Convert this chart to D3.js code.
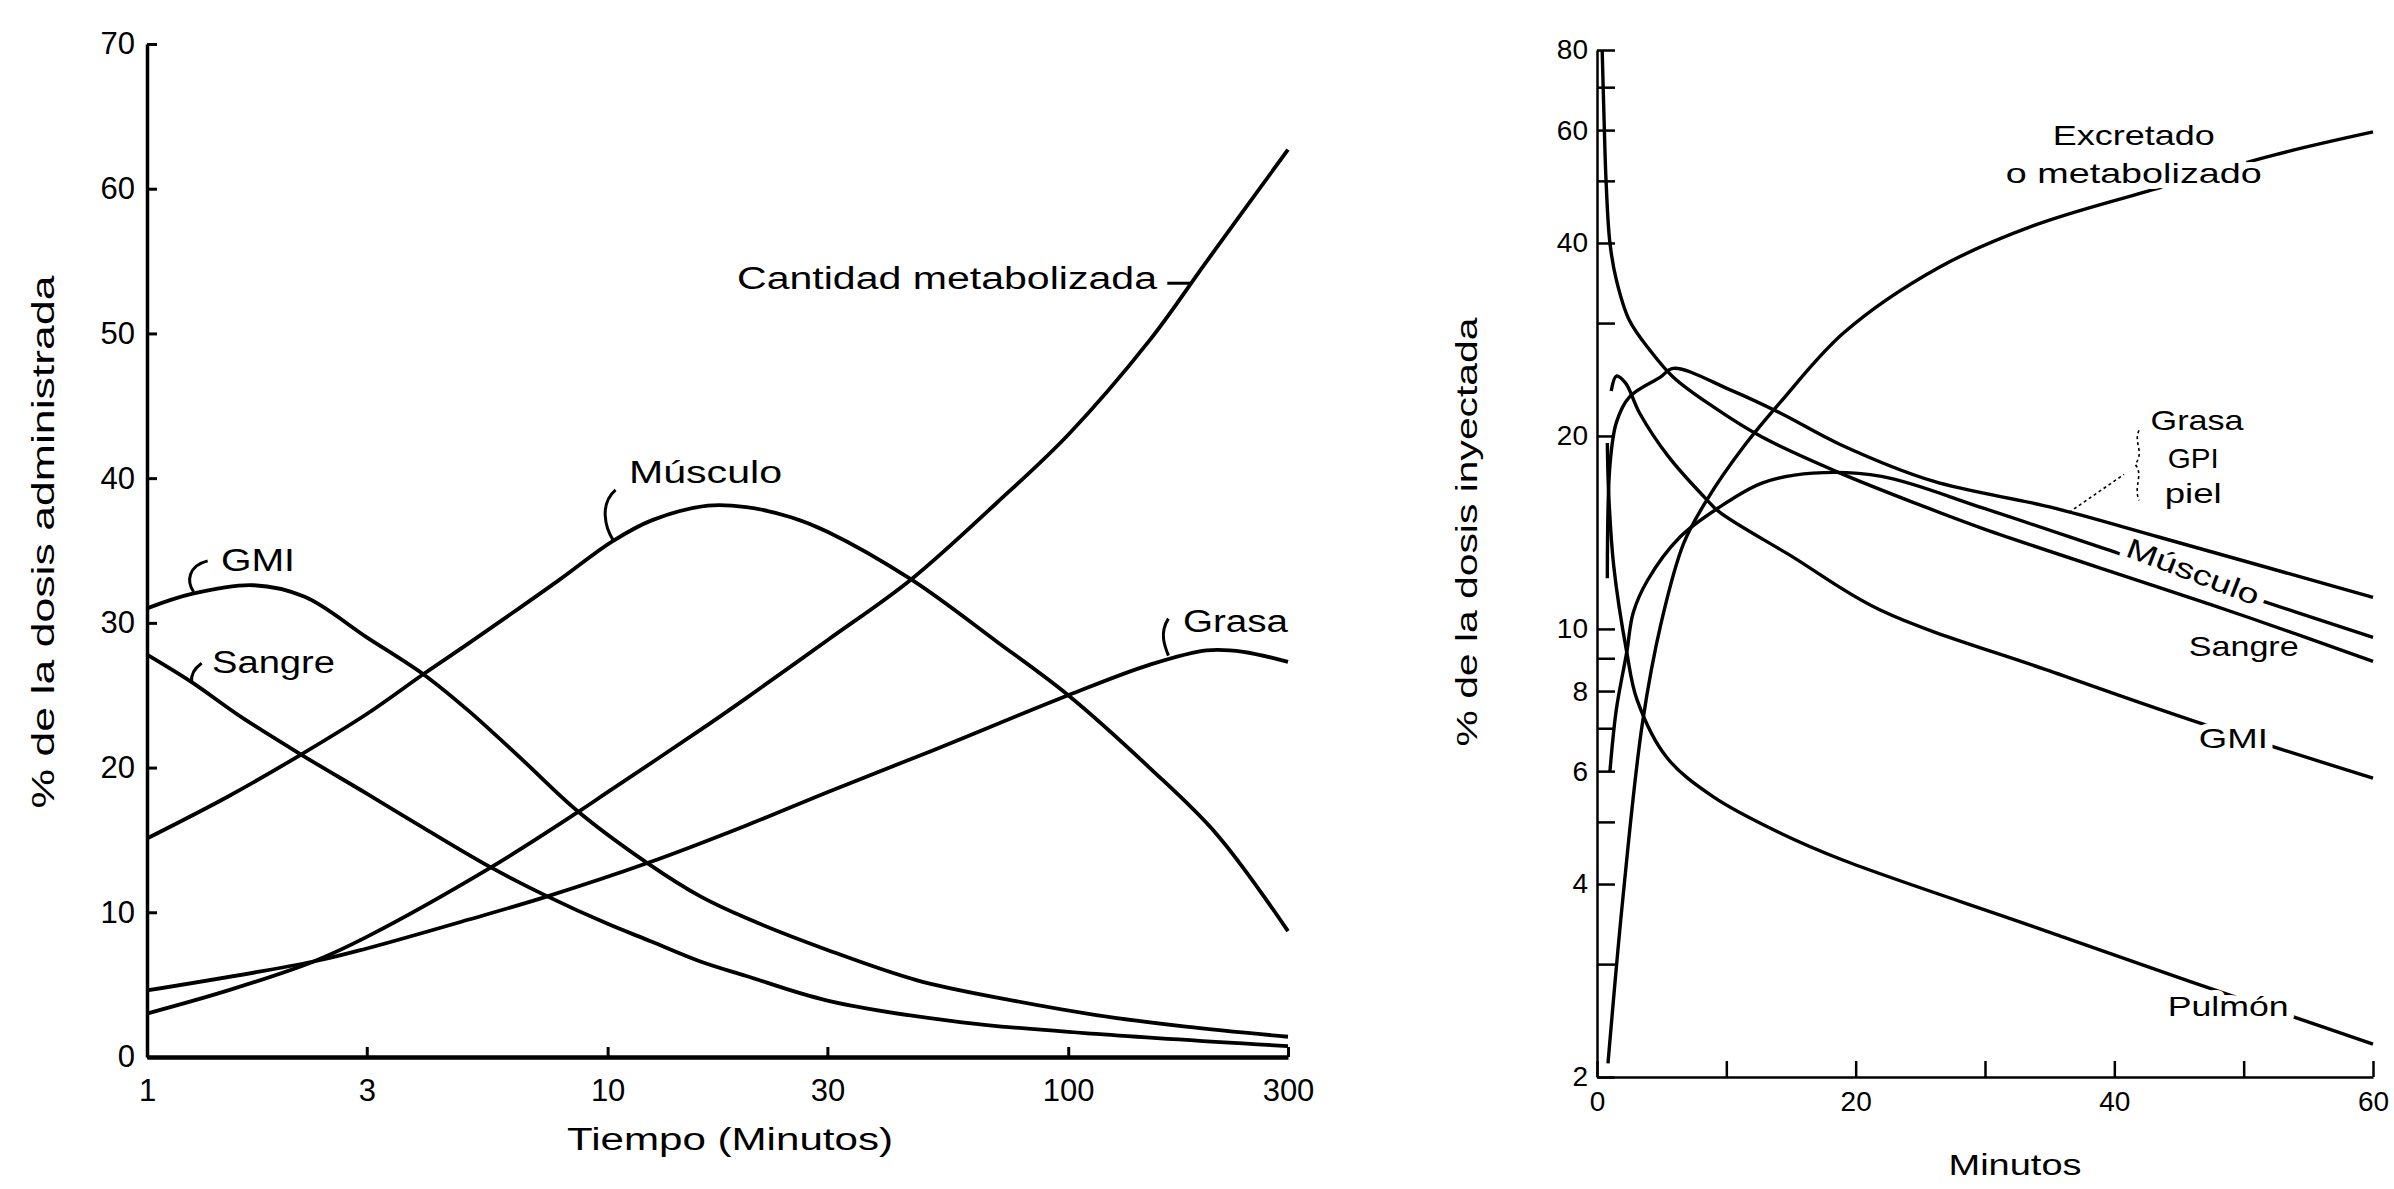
<!DOCTYPE html>
<html>
<head>
<meta charset="utf-8">
<script src="https://cdn.jsdelivr.net/npm/d3@7"></script>
<style>
  body { margin: 0; background: #fff; }
  text { font-family: "Liberation Sans", Arial, sans-serif; fill: #000; }
</style>
</head>
<body>
<svg id="fig" width="2394" height="1189"></svg>
<script>
// ---------- left panel: % de la dosis administrada vs tiempo (log) ----------
var leftTicksX = [1, 3, 10, 30, 100, 300];
var leftTicksY = [0, 10, 20, 30, 40, 50, 60, 70];

var gmiLeft = [[1,31.0],[1.25,32.0],[1.7,32.6],[2.2,31.8],[3,29.0],[4,26.4],[5,23.9],[6.5,20.6],[8.6,17.0],
  [12.2,13.4],[15.9,11.1],[20,9.6],[30,7.4],[47,5.3],[73,4.0],[115,2.9],[180,2.1],[300,1.4]];
var sangreLeft = [[1,27.8],[1.25,25.9],[1.6,23.5],[2.16,20.9],[3,18.2],[4,15.8],[5.58,13.1],[7.4,11.1],
  [10,9.2],[12.4,8.0],[15.9,6.6],[20,5.6],[30,3.9],[58.8,2.4],[115,1.6],[300,0.75]];
var musculoLeft = [[1,15.1],[1.5,18.0],[2.16,20.9],[3,23.7],[4,26.5],[5,28.6],[7.8,32.9],[10.2,35.6],
  [12.5,37.1],[16.5,38.1],[20,38.0],[25,37.3],[30,36.3],[45.6,33.0],[70,28.7],[100,25.0],[150,20.0],
  [210,15.4],[300,8.7]];
var metabLeft = [[1,3.0],[1.5,4.6],[2.3,6.6],[3,8.3],[5.58,13.1],[8.6,16.9],[10,18.3],[15.9,22.6],[20,24.8],
  [30,28.8],[45.6,33.0],[70,38.3],[100,43.0],[150,49.5],[200,55.0],[300,62.7]];
var grasaLeft = [[1,4.6],[2.3,6.6],[3,7.5],[5,9.5],[7.4,11.1],[12.2,13.4],[20,16.0],[30,18.3],[50,21.1],
  [100,25.0],[150,27.1],[200,28.1],[240,28.0],[300,27.3]];

// ---------- right panel: % de la dosis inyectada (log) vs minutos ----------
var rightTicksX = [0, 10, 20, 30, 40, 50, 60];
var rightLabelsX = [0, 20, 40, 60];
var rightTicksY = [2, 3, 4, 5, 6, 7, 8, 9, 10, 20, 30, 40, 50, 60, 70, 80];
var rightLabelsY = [2, 4, 6, 8, 10, 20, 40, 60, 80];

var sangreRight = [[0.4,80],[0.55,62],[0.7,50],[1.0,40],[1.5,35],[2.5,30.3],[4.1,27.2],[5.9,24.7],[9,22.2],
  [12.8,19.9],[18.8,17.5],[25,15.6],[30,14.3],[43.5,11.6],[50.5,10.4],[60,8.9]];
var musculoRight = [[1.0,6.0],[1.5,7.5],[2.3,9.2],[2.8,10.6],[3.9,11.9],[6.4,13.9],[9.5,15.5],[12.8,16.9],
  [16.7,17.5],[22,17.3],[30,15.4],[40.4,13.1],[50,11.3],[60,9.7]];
var grasaRight = [[0.8,12],[1.0,18],[1.5,21],[2.5,23],[4.9,24.7],[5.9,25.5],[10.3,23.6],[14.2,21.7],
  [18.8,19.4],[26,17.0],[35,15.5],[43.5,13.9],[60,11.2]];
var gmiRight = [[1.1,23.5],[1.5,24.8],[2.2,24.2],[3.3,21.7],[5.5,18.6],[8.5,15.9],[9.5,15.2],[15,13.0],
  [21.9,10.7],[35,8.6],[46,7.2],[60,5.85]];
var pulmonRight = [[0.8,19.5],[0.9,16.3],[1.3,12.5],[2.3,9.2],[3.1,7.75],[5.4,6.3],[9,5.47],[14.2,4.8],
  [19,4.36],[33.8,3.43],[45.6,2.83],[53.9,2.48],[60,2.25]];
var excretRight = [[0.85,2.1],[2.0,3.8],[3.5,7.1],[5,10.3],[6.7,13.6],[8.5,15.9],[11.3,19.2],[14.2,22.6],
  [19.1,29],[26.4,36.6],[33.8,42.6],[42.6,48.2],[52.4,54.9],[60,59.6]];

var svg = d3.select("#fig");

// scales
var xL = d3.scaleLog().domain([1, 300]).range([147, 1288]);
var yL = d3.scaleLinear().domain([0, 70]).range([1057, 44]);
var xR = d3.scaleLinear().domain([0, 60]).range([1597, 2373]);
var yR = d3.scaleLog().domain([2, 80]).range([1077, 50]);

function halo(sel, w) {
  return sel.attr("stroke", "#fff").attr("stroke-width", w).attr("paint-order", "stroke")
    .attr("stroke-linejoin", "round");
}

// ----- left axes -----
var axL = svg.append("g").attr("transform", "translate(0,1057)")
  .call(d3.axisBottom(xL).tickValues(leftTicksX).tickFormat(d3.format("d"))
    .tickSize(-10).tickSizeOuter(0).tickPadding(22));
var ayL = svg.append("g").attr("transform", "translate(147,0)")
  .call(d3.axisLeft(yL).tickValues(leftTicksY).tickSize(-10).tickSizeOuter(0).tickPadding(12));
[axL, ayL].forEach(function(a) {
  a.select(".domain").attr("stroke-width", 4.5);
  a.selectAll(".tick line").attr("stroke-width", 3);
  a.selectAll("text").style("font-size", "31px").attr("font-family", null);
});
ayL.select(".domain").attr("stroke-width", 3.5);

// ----- left curves -----
var lineL = d3.line().x(function(d) { return xL(d[0]); }).y(function(d) { return yL(d[1]); })
  .curve(d3.curveCatmullRom.alpha(0.5));
[gmiLeft, sangreLeft, musculoLeft, metabLeft, grasaLeft].forEach(function(s) {
  svg.append("path").datum(s).attr("d", lineL)
    .attr("fill", "none").attr("stroke", "#000").attr("stroke-width", 3.8);
});

// left labels
var leftLabels = [
  {text: "Cantidad metabolizada", x: 1157, y: 289, len: 420, anchor: "end"},
  {text: "Músculo", x: 629, y: 483, len: 153, anchor: "start"},
  {text: "GMI", x: 221, y: 571, len: 74, anchor: "start"},
  {text: "Sangre", x: 212, y: 673, len: 123, anchor: "start"},
  {text: "Grasa", x: 1183, y: 632, len: 105, anchor: "start"}
];
leftLabels.forEach(function(l) {
  svg.append("text").attr("x", l.x).attr("y", l.y).attr("text-anchor", l.anchor)
    .attr("textLength", l.len).attr("lengthAdjust", "spacingAndGlyphs")
    .style("font-size", "31px").text(l.text);
});

// small brackets joining the labels to their curves
var leftBrackets = [
  {t: 10.2, v: 35.6, d: "M2,-1 C-7,-15 -12,-38 4,-52"},
  {t: 1.25, v: 32.0, d: "M2,-2 C-5,-12 -4,-28 16,-33"},
  {t: 1.25, v: 25.9, d: "M0,0 C-1,-8 3,-14 10,-19"},
  {t: 165, v: 27.6, d: "M0,-2 C-4,-12 -9,-25 0,-39"},
  {t: 185, v: 53.4, d: "M-24,-1 L0,-1"}
];
leftBrackets.forEach(function(b) {
  svg.append("path").attr("transform", "translate(" + xL(b.t) + "," + yL(b.v) + ")")
    .attr("d", b.d).attr("fill", "none").attr("stroke", "#000").attr("stroke-width", 3);
});

svg.append("text").attr("x", 730).attr("y", 1150).attr("text-anchor", "middle")
  .attr("textLength", 326).attr("lengthAdjust", "spacingAndGlyphs")
  .style("font-size", "31px").text("Tiempo (Minutos)");
svg.append("text").attr("transform", "translate(54,542) rotate(-90)").attr("text-anchor", "middle")
  .attr("textLength", 533).attr("lengthAdjust", "spacingAndGlyphs")
  .style("font-size", "32px").text("% de la dosis administrada");

// ----- right axes -----
var axR = svg.append("g").attr("transform", "translate(0,1077)")
  .call(d3.axisBottom(xR).tickValues(rightTicksX)
    .tickFormat(function(d) { return rightLabelsX.indexOf(d) >= 0 ? d : ""; })
    .tickSize(-16).tickSizeOuter(0).tickPadding(14));
var ayR = svg.append("g").attr("transform", "translate(1597,0)")
  .call(d3.axisLeft(yR).tickValues(rightTicksY)
    .tickFormat(function(d) { return rightLabelsY.indexOf(d) >= 0 ? d : ""; })
    .tickSize(-18).tickSizeOuter(0).tickPadding(9));
[axR, ayR].forEach(function(a) {
  a.select(".domain").attr("stroke-width", 2.5);
  a.selectAll(".tick line").attr("stroke-width", 2.5);
  a.selectAll("text").style("font-size", "28px").attr("font-family", null);
});

// ----- right curves -----
var lineR = d3.line().x(function(d) { return xR(d[0]); }).y(function(d) { return yR(d[1]); })
  .curve(d3.curveCatmullRom.alpha(0.5));
[sangreRight, musculoRight, grasaRight, gmiRight, pulmonRight, excretRight].forEach(function(s) {
  svg.append("path").datum(s).attr("d", lineR)
    .attr("fill", "none").attr("stroke", "#000").attr("stroke-width", 3.4);
});

// right labels, anchored in data units
var rightLabels = [
  {text: "Excretado", t: 41.5, v: 59.0, len: 162, rot: 0},
  {text: "o metabolizado", t: 41.5, v: 51.5, len: 256, rot: 0},
  {text: "Grasa", t: 46.4, v: 21.2, len: 93, rot: 0},
  {text: "GPI", t: 46.1, v: 18.5, len: 51, rot: 0},
  {text: "piel", t: 46.1, v: 16.3, len: 57, rot: 0},
  {text: "Músculo", t: 46.1, v: 12.3, len: 140, rot: 21},
  {text: "Sangre", t: 50.0, v: 9.4, len: 110, rot: 0},
  {text: "GMI", t: 49.2, v: 6.75, len: 69, rot: 0},
  {text: "Pulmón", t: 48.8, v: 2.58, len: 121, rot: 0}
];
rightLabels.forEach(function(l) {
  var t = svg.append("text")
    .attr("transform", "translate(" + xR(l.t) + "," + yR(l.v) + ") rotate(" + l.rot + ")")
    .attr("text-anchor", "middle").attr("dy", "0.36em")
    .attr("textLength", l.len).attr("lengthAdjust", "spacingAndGlyphs")
    .style("font-size", "28px").text(l.text);
  halo(t, 12);
});

// dotted brace and leader for Grasa / GPI / piel
var braceAt = [36.5, 15.2];
svg.append("path")
  .attr("transform", "translate(" + xR(braceAt[0]) + "," + yR(braceAt[1]) + ")")
  .attr("d", "M0,0 L55,-38 M70,-82 C64,-70 76,-60 66,-48 C75,-38 64,-26 70,-12")
  .attr("fill", "none").attr("stroke", "#000").attr("stroke-width", 1.6)
  .attr("stroke-dasharray", "3,3");

svg.append("text").attr("x", 2015).attr("y", 1175).attr("text-anchor", "middle")
  .attr("textLength", 133).attr("lengthAdjust", "spacingAndGlyphs")
  .style("font-size", "30px").text("Minutos");
svg.append("text").attr("transform", "translate(1477,532) rotate(-90)").attr("text-anchor", "middle")
  .attr("textLength", 429).attr("lengthAdjust", "spacingAndGlyphs")
  .style("font-size", "30px").text("% de la dosis inyectada");
</script>
</body>
</html>
